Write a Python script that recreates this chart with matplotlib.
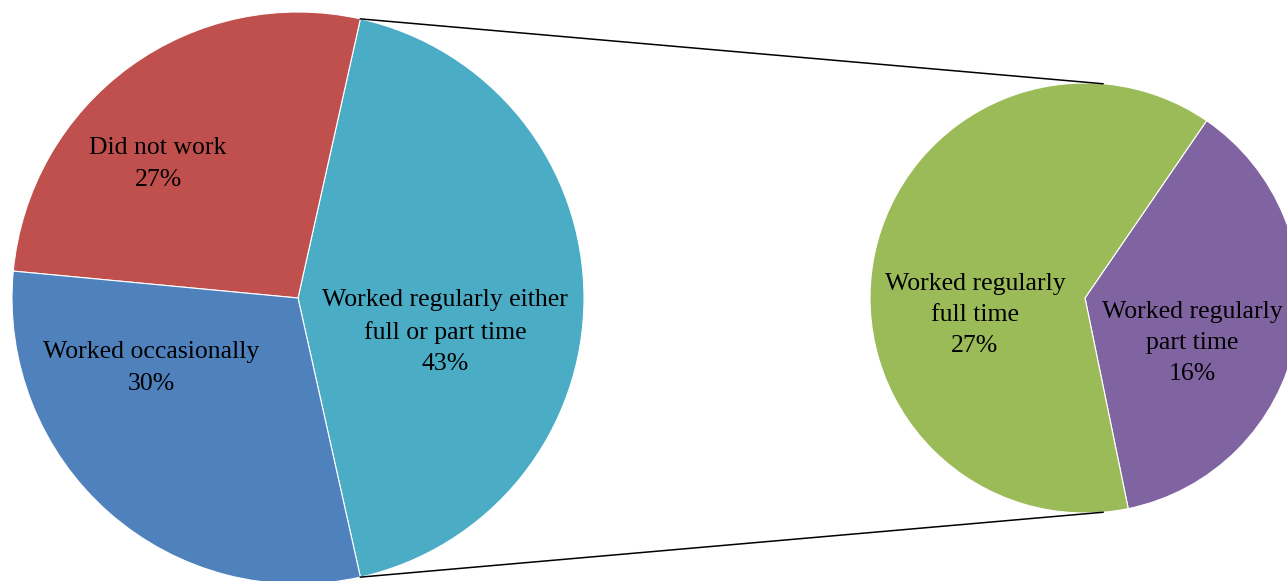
import numpy as np
import matplotlib.pyplot as plt

plt.rcParams['font.family'] = ['Liberation Serif', 'DejaVu Serif']

# main pie
main_labels = ['Worked regularly either\nfull or part time', 'Did not work', 'Worked occasionally']
main_values = [43, 27, 30]
main_colors = ['#4BACC6', '#C0504D', '#4F81BD']

# breakdown of "worked regularly"
sub_labels = ['Worked regularly\npart time', 'Worked regularly\nfull time']
sub_values = [16, 27]
sub_colors = ['#8064A2', '#9BBB59']

W, H = 1287, 581
fig = plt.figure(figsize=(W / 100, H / 100), dpi=100)
ax = fig.add_axes([0, 0, 1, 1])

c1, r1 = (298, 283), 286
c2, r2 = (1085, 283), 215

half = main_values[0] / sum(main_values) * 180
ax.pie(main_values, colors=main_colors, startangle=-half, center=c1, radius=r1,
       wedgeprops=dict(edgecolor='white', linewidth=0.8), frame=True)
ax.pie(sub_values, colors=sub_colors, startangle=-78.4, center=c2, radius=r2,
       wedgeprops=dict(edgecolor='white', linewidth=0.8), frame=True)
ax.set_xlim(0, W)
ax.set_ylim(0, H)
ax.set_aspect('equal')
ax.axis('off')

# connector lines from the split wedge to the secondary pie
a1 = np.radians(half)
a2 = np.radians(85.2)
for s in (1, -1):
    x0 = c1[0] + r1 * np.cos(a1)
    y0 = c1[1] + s * r1 * np.sin(a1)
    x1 = c2[0] + r2 * np.cos(a2)
    y1 = c2[1] + s * r2 * np.sin(a2)
    ax.plot([x0, x1], [y0, y1], color='black', lw=1.1)

fs = 18.5
label_pos = {
    main_labels[0]: (445, H - 332),
    main_labels[1]: (158, H - 164),
    main_labels[2]: (151, H - 368),
    sub_labels[0]: (1192, H - 343),
    sub_labels[1]: (975, H - 315),
}
for lab, val in zip(main_labels + sub_labels, main_values + sub_values):
    x, y = label_pos[lab]
    ax.text(x, y, f'{lab}\n{val}%', ha='center', va='center', fontsize=fs,
            linespacing=1.55, color='black')

fig.savefig('out.png', dpi=100)
